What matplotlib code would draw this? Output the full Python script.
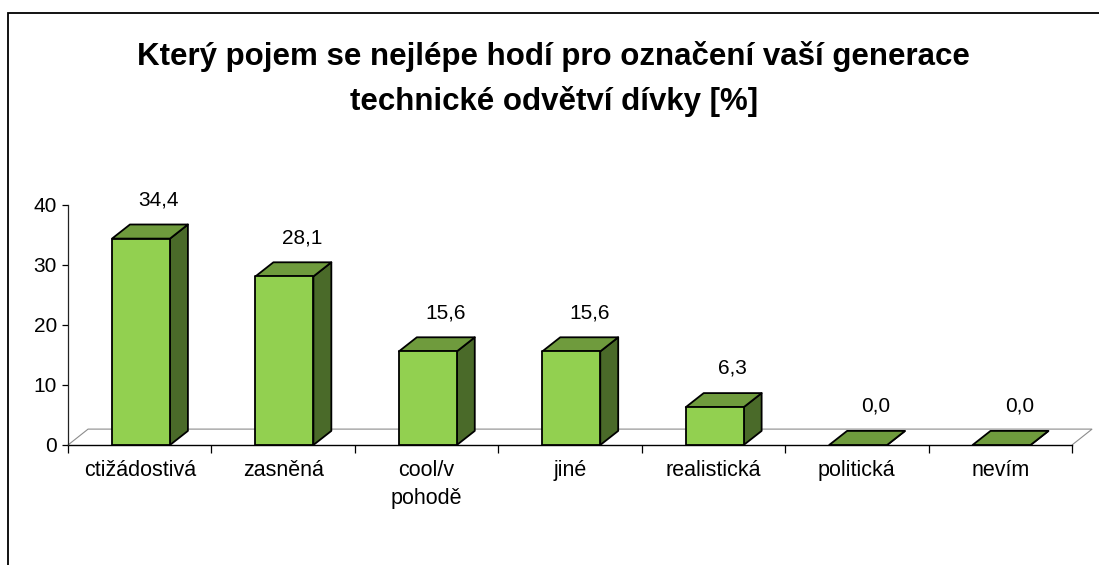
import matplotlib.pyplot as plt
import numpy as np
from matplotlib.patches import Polygon, Rectangle

categories = ["ctižádostivá", "zasněná", "cool/v\npohodě", "jiné",
              "realistická", "politická", "nevím"]
values = [34.4, 28.1, 15.6, 15.6, 6.3, 0.0, 0.0]
y_ticks = [0, 10, 20, 30, 40]
title = "Který pojem se nejlépe hodí pro označení vaší generace\ntechnické odvětví dívky [%]"

FRONT = "#92D050"
TOP = "#6F9B3D"
SIDE = "#4A6A29"

plt.rcParams["font.family"] = ["Liberation Sans", "DejaVu Sans"]

fig = plt.figure(figsize=(10.99, 5.65), dpi=100)
ax = fig.add_axes([68 / 1099, 120 / 565, 1004 / 1099, 240 / 565])

n = len(categories)
ax.set_xlim(0, n)
ax.set_ylim(0, 40)

# depth of the fake 3d effect, in data units
bar_dx, bar_dy = 0.125, 2.35
floor_dx, floor_dy = 0.14, 2.65

floor = Polygon([(0, 0), (floor_dx, floor_dy), (n + floor_dx, floor_dy), (n, 0)],
                closed=False, facecolor="white", edgecolor="#8c8c8c",
                lw=0.8, clip_on=False, zorder=1)
ax.add_patch(floor)

edge = dict(edgecolor="black", lw=1.3, clip_on=False, zorder=3, joinstyle="round")
for i, v in enumerate(values):
    x0, x1 = i + 0.307, i + 0.711
    ax.add_patch(Polygon([(x1, 0), (x1 + bar_dx, bar_dy), (x1 + bar_dx, v + bar_dy), (x1, v)],
                         facecolor=SIDE, **edge))
    ax.add_patch(Polygon([(x0, v), (x0 + bar_dx, v + bar_dy), (x1 + bar_dx, v + bar_dy), (x1, v)],
                         facecolor=TOP, **edge))
    if v > 0:
        ax.add_patch(Rectangle((x0, 0), x1 - x0, v, facecolor=FRONT, **edge))
    ax.text((x0 + x1) / 2 + bar_dx, v + bar_dy + 4.1, f"{v:.1f}".replace(".", ","),
            ha="center", va="center", fontsize=15)

for s in ("top", "right"):
    ax.spines[s].set_visible(False)
ax.spines["bottom"].set_color("black")
ax.spines["bottom"].set_linewidth(1.0)
ax.spines["left"].set_color("#222222")
ax.spines["left"].set_linewidth(0.9)
ax.spines["bottom"].set_zorder(2)

ax.set_yticks(y_ticks)
ax.tick_params(axis="y", direction="out", length=4, width=0.9, pad=4, labelsize=15)
ax.set_xticks(np.arange(n + 1))
ax.set_xticklabels([])
ax.tick_params(axis="x", which="major", direction="out", length=6, width=0.9)
ax.set_xticks(np.arange(n) + 0.5, categories, minor=True)
ax.tick_params(axis="x", which="minor", length=0, pad=11, labelsize=15.5)
for lab in ax.get_xticklabels(minor=True):
    lab.set_linespacing(1.45)
ax.patch.set_visible(False)

fig.text(0.504, 1 - 79 / 565, title, ha="center", va="center",
         fontsize=22.5, fontweight="bold", linespacing=1.55)

fig.patches.append(Rectangle((8 / 1099, -0.1), 1.2, 1.1 - 13 / 565,
                             transform=fig.transFigure, fill=False,
                             edgecolor="black", lw=1.3))

fig.savefig("out.png", dpi=100)
